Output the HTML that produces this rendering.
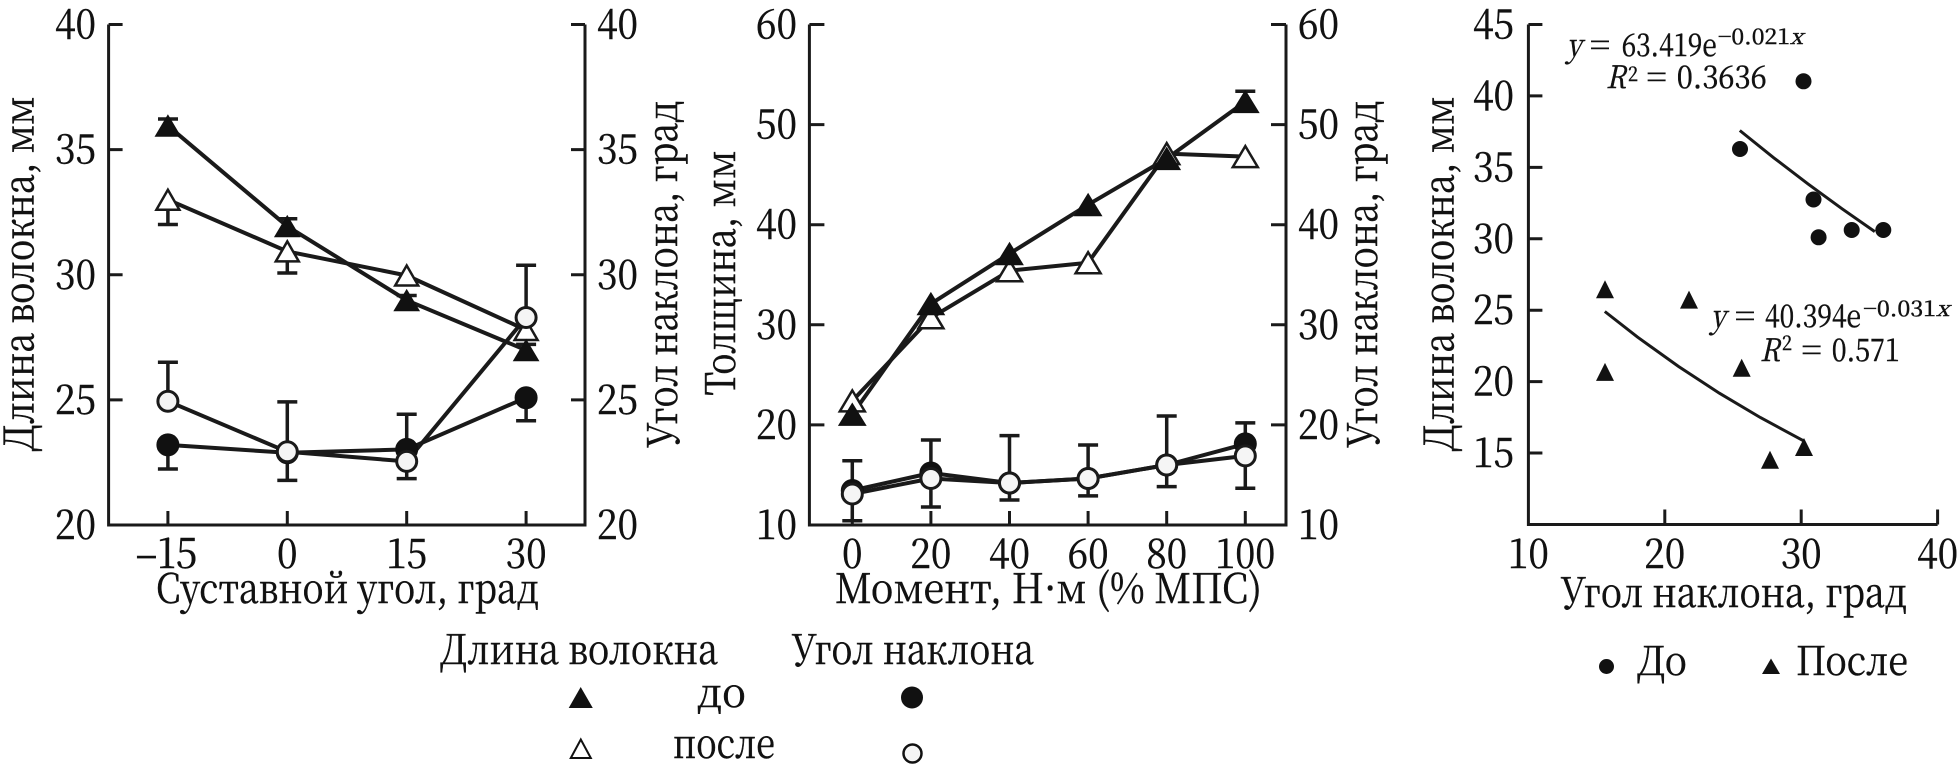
<!DOCTYPE html>
<html><head><meta charset="utf-8"><style>
html,body{margin:0;padding:0;background:#fff}
svg{display:block}
svg text{font-family:"Noto Serif CJK SC","Liberation Serif","DejaVu Serif",serif;fill:#111;stroke:#111;stroke-width:0.5px}
</style></head><body>
<svg width="1958" height="773" viewBox="0 0 1958 773" xmlns="http://www.w3.org/2000/svg" font-family="'Noto Serif CJK SC','Liberation Serif','DejaVu Serif',serif">
<rect width="1958" height="773" fill="#fff"/>

<!-- ============ CHART 1 ============ -->
<g stroke="#1a1a1a" stroke-width="3" fill="none">
  <path d="M108.6,24.5 V525 H585 V24.5"/>
  <path d="M108.6,24.5 h14 M108.6,149.6 h14 M108.6,274.75 h14 M108.6,399.9 h14"/>
  <path d="M585,24.5 h-14 M585,149.6 h-14 M585,274.75 h-14 M585,399.9 h-14"/>
  <path d="M167.9,525 v-14 M287.3,525 v-14 M406.7,525 v-14 M526.1,525 v-14"/>
</g>
<g font-size="41" text-anchor="end">
  <text x="96" y="38.5" textLength="41" lengthAdjust="spacingAndGlyphs">40</text>
  <text x="96" y="163.6" textLength="41" lengthAdjust="spacingAndGlyphs">35</text>
  <text x="96" y="288.75" textLength="41" lengthAdjust="spacingAndGlyphs">30</text>
  <text x="96" y="413.9" textLength="41" lengthAdjust="spacingAndGlyphs">25</text>
  <text x="96" y="539" textLength="41" lengthAdjust="spacingAndGlyphs">20</text>
</g>
<g font-size="41" text-anchor="start">
  <text x="597" y="38.5" textLength="41" lengthAdjust="spacingAndGlyphs">40</text>
  <text x="597" y="163.6" textLength="41" lengthAdjust="spacingAndGlyphs">35</text>
  <text x="597" y="288.75" textLength="41" lengthAdjust="spacingAndGlyphs">30</text>
  <text x="597" y="413.9" textLength="41" lengthAdjust="spacingAndGlyphs">25</text>
  <text x="597" y="539" textLength="41" lengthAdjust="spacingAndGlyphs">20</text>
</g>
<g font-size="41" text-anchor="middle">
  <text x="166.5" y="568" textLength="62" lengthAdjust="spacingAndGlyphs">–15</text>
  <text x="287.3" y="568" textLength="20.5" lengthAdjust="spacingAndGlyphs">0</text>
  <text x="406.7" y="568" textLength="41" lengthAdjust="spacingAndGlyphs">15</text>
  <text x="526.1" y="568" textLength="41" lengthAdjust="spacingAndGlyphs">30</text>
</g>
<text x="156" y="603" font-size="41" textLength="383" lengthAdjust="spacingAndGlyphs">Суставной угол, град</text>
<text transform="translate(33.7,274) rotate(-90)" font-size="41" text-anchor="middle" textLength="355" lengthAdjust="spacingAndGlyphs">Длина волокна, мм</text>
<text transform="translate(677,274) rotate(-90)" font-size="41" text-anchor="middle" textLength="347" lengthAdjust="spacingAndGlyphs">Угол наклона, град</text>

<!-- lines chart 1 -->
<g stroke="#1a1a1a" stroke-width="4" fill="none" stroke-linejoin="round">
  <polyline points="167.9,125.7 287.3,226.3 406.7,300.3 526.1,350.2"/>
  <polyline points="167.9,199.7 287.3,251.4 406.7,275.5 526.1,330"/>
  <polyline points="167.9,444.9 287.3,452.8 406.7,449.4 526.1,397.7"/>
  <polyline points="167.9,401.2 287.3,451.8 406.7,461.4 526.1,317.5"/>
</g>
<!-- error bars chart 1 -->
<g stroke="#1a1a1a" stroke-width="3.5" fill="none">
  <path d="M167.9,125.7 V119 M158,119 h20 M287.3,226.3 V218.7 M277.3,218.7 h20 M406.7,300.3 V295.5 M396.7,295.5 h20 M526.1,350.2 V344.4 M516.1,344.4 h20"/>
  <path d="M167.9,199.7 V224.5 M157.9,224.5 h20 M287.3,251.4 V273 M277.3,273 h20"/>
  <path d="M167.9,444.9 V469 M157.9,469 h20 M287.3,452.8 V480.4 M277.3,480.4 h20 M406.7,449.4 V478.6 M396.7,478.6 h20 M526.1,397.7 V420.8 M516.1,420.8 h20"/>
  <path d="M167.9,401.2 V362.3 M157.9,362.3 h20 M287.3,451.8 V401.9 M277.3,401.9 h20 M406.7,461.4 V414.3 M396.7,414.3 h20 M526.1,317.5 V265.2 M516.1,265.2 h20"/>
</g>
<!-- markers chart 1 -->
<g fill="#fff" stroke="#1a1a1a" stroke-width="2.5">
  <polygon points="167.9,189.7 156.4,209.7 179.4,209.7"/>
  <polygon points="287.3,241.4 275.8,261.4 298.8,261.4"/>
  <polygon points="406.7,265.5 395.2,285.5 418.2,285.5"/>
  <polygon points="526.1,320 514.6,340 537.6,340"/>
</g>
<g fill="#111" stroke="#111" stroke-width="1">
  <polygon points="167.9,115.2 155.4,136.2 180.4,136.2"/>
  <polygon points="287.3,215.8 274.8,236.8 299.8,236.8"/>
  <polygon points="406.7,289.8 394.2,310.8 419.2,310.8"/>
  <polygon points="526.1,339.7 513.6,360.7 538.6,360.7"/>
  <circle cx="167.9" cy="444.9" r="11"/>
  <circle cx="287.3" cy="452.8" r="11"/>
  <circle cx="406.7" cy="449.4" r="11"/>
  <circle cx="526.1" cy="397.7" r="11"/>
</g>
<g fill="#f5f5f5" stroke="#1a1a1a" stroke-width="3">
  <circle cx="167.9" cy="401.2" r="10"/>
  <circle cx="287.3" cy="451.8" r="10"/>
  <circle cx="406.7" cy="461.4" r="10"/>
  <circle cx="526.1" cy="317.5" r="10"/>
</g>

<!-- ============ CHART 2 ============ -->
<g stroke="#1a1a1a" stroke-width="3" fill="none">
  <path d="M809.4,24.5 V525 H1286 V24.5"/>
  <path d="M809.4,24.5 h15 M809.4,124.6 h15 M809.4,224.7 h15 M809.4,324.8 h15 M809.4,424.9 h15"/>
  <path d="M1286,24.5 h-15 M1286,124.6 h-15 M1286,224.7 h-15 M1286,324.8 h-15 M1286,424.9 h-15"/>
  <path d="M852.3,525 v-14 M930.9,525 v-14 M1009.5,525 v-14 M1088.1,525 v-14 M1166.7,525 v-14 M1245.3,525 v-14"/>
</g>
<g font-size="41" text-anchor="end">
  <text x="797" y="38.5" textLength="41" lengthAdjust="spacingAndGlyphs">60</text>
  <text x="797" y="138.6" textLength="41" lengthAdjust="spacingAndGlyphs">50</text>
  <text x="797" y="238.7" textLength="41" lengthAdjust="spacingAndGlyphs">40</text>
  <text x="797" y="338.8" textLength="41" lengthAdjust="spacingAndGlyphs">30</text>
  <text x="797" y="438.9" textLength="41" lengthAdjust="spacingAndGlyphs">20</text>
  <text x="797" y="539" textLength="41" lengthAdjust="spacingAndGlyphs">10</text>
</g>
<g font-size="41" text-anchor="start">
  <text x="1298" y="38.5" textLength="41" lengthAdjust="spacingAndGlyphs">60</text>
  <text x="1298" y="138.6" textLength="41" lengthAdjust="spacingAndGlyphs">50</text>
  <text x="1298" y="238.7" textLength="41" lengthAdjust="spacingAndGlyphs">40</text>
  <text x="1298" y="338.8" textLength="41" lengthAdjust="spacingAndGlyphs">30</text>
  <text x="1298" y="438.9" textLength="41" lengthAdjust="spacingAndGlyphs">20</text>
  <text x="1298" y="539" textLength="41" lengthAdjust="spacingAndGlyphs">10</text>
</g>
<g font-size="41" text-anchor="middle">
  <text x="852.3" y="568" textLength="20.5" lengthAdjust="spacingAndGlyphs">0</text>
  <text x="930.9" y="568" textLength="41" lengthAdjust="spacingAndGlyphs">20</text>
  <text x="1009.5" y="568" textLength="41" lengthAdjust="spacingAndGlyphs">40</text>
  <text x="1088.1" y="568" textLength="41" lengthAdjust="spacingAndGlyphs">60</text>
  <text x="1166.7" y="568" textLength="41" lengthAdjust="spacingAndGlyphs">80</text>
  <text x="1245.3" y="568" textLength="60" lengthAdjust="spacingAndGlyphs">100</text>
</g>
<text x="835" y="603" font-size="41" textLength="427" lengthAdjust="spacingAndGlyphs">Момент, Н·м (% МПС)</text>
<text transform="translate(735,273) rotate(-90)" font-size="41" text-anchor="middle" textLength="245" lengthAdjust="spacingAndGlyphs">Толщина, мм</text>
<text transform="translate(1377,274) rotate(-90)" font-size="41" text-anchor="middle" textLength="347" lengthAdjust="spacingAndGlyphs">Угол наклона, град</text>

<g stroke="#1a1a1a" stroke-width="4" fill="none" stroke-linejoin="round">
  <polyline points="852.3,400.9 930.9,317.8 1009.5,270.7 1088.1,262.7 1166.7,153.6 1245.3,156.6"/>
  <polyline points="852.3,414.4 930.9,303.8 1009.5,253.7 1088.1,204.7 1166.7,158.6 1245.3,101.6"/>
  <polyline points="852.3,490.5 930.9,473 1009.5,483 1088.1,478.5 1166.7,465 1245.3,443.9"/>
  <polyline points="852.3,494 930.9,478.5 1009.5,483 1088.1,478.5 1166.7,465 1245.3,455.9"/>
</g>
<g stroke="#1a1a1a" stroke-width="3.5" fill="none">
  <path d="M852.3,460.7 V520.7 M842.3,460.7 h20 M842.3,520.7 h20"/>
  <path d="M930.9,440 V507 M920.9,440 h20 M920.9,507 h20"/>
  <path d="M1009.5,435.6 V500 M999.5,435.6 h20 M999.5,500 h20"/>
  <path d="M1088.1,445 V495.9 M1078.1,445 h20 M1078.1,495.9 h20"/>
  <path d="M1166.7,416 V486.6 M1156.7,416 h20 M1156.7,486.6 h20"/>
  <path d="M1245.3,422.9 V488.3 M1235.3,422.9 h20 M1235.3,488.3 h20"/>
  <path d="M1245.3,101.6 V91.3 M1235.3,91.3 h20"/>
</g>
<g fill="#fff" stroke="#1a1a1a" stroke-width="2.5">
  <polygon points="852.3,390.4 839.8,411.4 864.8,411.4"/>
  <polygon points="930.9,307.3 918.4,328.3 943.4,328.3"/>
  <polygon points="1009.5,260.2 997,281.2 1022,281.2"/>
  <polygon points="1088.1,252.2 1075.6,273.2 1100.6,273.2"/>
  <polygon points="1166.7,143.1 1154.2,164.1 1179.2,164.1"/>
  <polygon points="1245.3,146.1 1232.8,167.1 1257.8,167.1"/>
</g>
<g fill="#111" stroke="#111" stroke-width="1">
  <polygon points="852.3,403.4 838.8,425.4 865.8,425.4"/>
  <polygon points="930.9,292.8 917.4,314.8 944.4,314.8"/>
  <polygon points="1009.5,242.7 996,264.7 1023,264.7"/>
  <polygon points="1088.1,193.7 1074.6,215.7 1101.6,215.7"/>
  <polygon points="1166.7,147.6 1153.2,169.6 1180.2,169.6"/>
  <polygon points="1245.3,90.6 1231.8,112.6 1258.8,112.6"/>
  <circle cx="852.3" cy="490.5" r="11"/>
  <circle cx="930.9" cy="473" r="11"/>
  <circle cx="1009.5" cy="483" r="11"/>
  <circle cx="1088.1" cy="478.5" r="11"/>
  <circle cx="1166.7" cy="465" r="11"/>
  <circle cx="1245.3" cy="443.9" r="11"/>
</g>
<g fill="#f5f5f5" stroke="#1a1a1a" stroke-width="3">
  <circle cx="852.3" cy="494" r="10"/>
  <circle cx="930.9" cy="478.5" r="10"/>
  <circle cx="1009.5" cy="483" r="10"/>
  <circle cx="1088.1" cy="478.5" r="10"/>
  <circle cx="1166.7" cy="465" r="10"/>
  <circle cx="1245.3" cy="455.9" r="10"/>
</g>

<!-- legend (charts 1-2) -->
<text x="440" y="664" font-size="41" textLength="278" lengthAdjust="spacingAndGlyphs">Длина волокна</text>
<text x="792" y="664" font-size="41" textLength="242" lengthAdjust="spacingAndGlyphs">Угол наклона</text>
<polygon points="580.7,687 568.7,708 592.8,708" fill="#111"/>
<text x="697" y="707" font-size="41" textLength="49" lengthAdjust="spacingAndGlyphs">до</text>
<circle cx="912" cy="697.5" r="11" fill="#111"/>
<polygon points="580.8,739.5 570.8,758 590.8,758" fill="#fff" stroke="#111" stroke-width="2"/>
<text x="673" y="758" font-size="41" textLength="102" lengthAdjust="spacingAndGlyphs">после</text>
<circle cx="912.5" cy="753.5" r="9" fill="#f5f5f5" stroke="#111" stroke-width="2.5"/>

<!-- ============ CHART 3 ============ -->
<g stroke="#1a1a1a" stroke-width="3" fill="none">
  <path d="M1528.4,24.5 V524.5 H1937.6"/>
  <path d="M1528.4,24.5 h14 M1528.4,95.9 h14 M1528.4,167.4 h14 M1528.4,238.8 h14 M1528.4,310.2 h14 M1528.4,381.6 h14 M1528.4,453 h14"/>
  <path d="M1664.8,524.5 v-15 M1801.2,524.5 v-15 M1937.6,524.5 v-15"/>
</g>
<g font-size="41" text-anchor="end">
  <text x="1514" y="38.5" textLength="41" lengthAdjust="spacingAndGlyphs">45</text>
  <text x="1514" y="109.9" textLength="41" lengthAdjust="spacingAndGlyphs">40</text>
  <text x="1514" y="181.4" textLength="41" lengthAdjust="spacingAndGlyphs">35</text>
  <text x="1514" y="252.8" textLength="41" lengthAdjust="spacingAndGlyphs">30</text>
  <text x="1514" y="324.2" textLength="41" lengthAdjust="spacingAndGlyphs">25</text>
  <text x="1514" y="395.6" textLength="41" lengthAdjust="spacingAndGlyphs">20</text>
  <text x="1514" y="467" textLength="41" lengthAdjust="spacingAndGlyphs">15</text>
</g>
<g font-size="41" text-anchor="middle">
  <text x="1528.4" y="568" textLength="41" lengthAdjust="spacingAndGlyphs">10</text>
  <text x="1664.8" y="568" textLength="41" lengthAdjust="spacingAndGlyphs">20</text>
  <text x="1801.2" y="568" textLength="41" lengthAdjust="spacingAndGlyphs">30</text>
  <text x="1937.6" y="568" textLength="41" lengthAdjust="spacingAndGlyphs">40</text>
</g>
<text x="1561" y="607" font-size="41" textLength="346" lengthAdjust="spacingAndGlyphs">Угол наклона, град</text>
<text transform="translate(1453.7,274) rotate(-90)" font-size="41" text-anchor="middle" textLength="355" lengthAdjust="spacingAndGlyphs">Длина волокна, мм</text>

<g stroke="#1a1a1a" stroke-width="3" fill="none">
  <polyline points="1739.8,130.5 1773.9,157.9 1808,183.9 1842.1,208.8 1874.8,231.6"/>
  <polyline points="1604.8,311.5 1637.5,337.1 1678.4,366.4 1719.4,393.2 1760.3,417.5 1804,441.1"/>
</g>
<g fill="#111">
  <circle cx="1803.5" cy="81.3" r="8"/>
  <circle cx="1740" cy="149" r="8"/>
  <circle cx="1813.5" cy="199.5" r="8"/>
  <circle cx="1818.6" cy="237.3" r="8"/>
  <circle cx="1851.7" cy="230" r="8"/>
  <circle cx="1883.3" cy="230" r="8"/>
  <polygon points="1605,280.3 1596,298.3 1614,298.3"/>
  <polygon points="1605,362.9 1596,380.9 1614,380.9"/>
  <polygon points="1689,290.6 1680,308.6 1698,308.6"/>
  <polygon points="1741.7,358.8 1732.7,376.8 1750.7,376.8"/>
  <polygon points="1770,450.7 1761,468.7 1779,468.7"/>
  <polygon points="1804,438 1795,456 1813,456"/>
</g>

<!-- equations -->
<text x="1566.7" y="56" font-size="31" font-style="italic" textLength="15" lengthAdjust="spacingAndGlyphs">y</text>
<text x="1590" y="56" font-size="31" textLength="20" lengthAdjust="spacingAndGlyphs">=</text>
<text x="1621.7" y="56" font-size="31" textLength="95" lengthAdjust="spacingAndGlyphs">63.419e</text>
<text x="1718" y="44" font-size="21" textLength="85" lengthAdjust="spacingAndGlyphs">−0.021<tspan font-style="italic">x</tspan></text>
<text x="1606" y="88" font-size="31" font-style="italic" textLength="20" lengthAdjust="spacingAndGlyphs">R</text>
<text x="1628" y="81" font-size="20" textLength="10" lengthAdjust="spacingAndGlyphs">2</text>
<text x="1646.7" y="88" font-size="31" textLength="20" lengthAdjust="spacingAndGlyphs">=</text>
<text x="1676.7" y="88" font-size="31" textLength="90" lengthAdjust="spacingAndGlyphs">0.3636</text>

<text x="1710.7" y="327" font-size="31" font-style="italic" textLength="15" lengthAdjust="spacingAndGlyphs">y</text>
<text x="1735" y="327" font-size="31" textLength="20" lengthAdjust="spacingAndGlyphs">=</text>
<text x="1765" y="327" font-size="31" textLength="96" lengthAdjust="spacingAndGlyphs">40.394e</text>
<text x="1863.3" y="316" font-size="21" textLength="86" lengthAdjust="spacingAndGlyphs">−0.031<tspan font-style="italic">x</tspan></text>
<text x="1760" y="361" font-size="31" font-style="italic" textLength="20" lengthAdjust="spacingAndGlyphs">R</text>
<text x="1782" y="350" font-size="20" textLength="10" lengthAdjust="spacingAndGlyphs">2</text>
<text x="1801.7" y="361" font-size="31" textLength="20" lengthAdjust="spacingAndGlyphs">=</text>
<text x="1831.7" y="361" font-size="31" textLength="68" lengthAdjust="spacingAndGlyphs">0.571</text>

<!-- legend chart 3 -->
<circle cx="1606.5" cy="666.5" r="7.5" fill="#111"/>
<text x="1637" y="675" font-size="40" textLength="50" lengthAdjust="spacingAndGlyphs">До</text>
<polygon points="1771,658.5 1762,674 1780,674" fill="#111"/>
<text x="1796" y="675" font-size="40" textLength="112" lengthAdjust="spacingAndGlyphs">После</text>
</svg>
</body></html>
